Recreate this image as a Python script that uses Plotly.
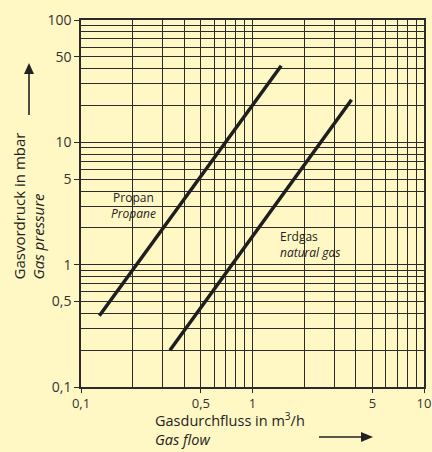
import plotly.graph_objects as go

# ---- data ----
propane_flow = [0.128, 1.47]
propane_pressure = [0.382, 42.3]
natgas_flow = [0.330, 3.78]
natgas_pressure = [0.200, 22.3]

x_tickvals = [0.1, 0.5, 1, 5, 10]
x_ticktext = ["0,1", "0,5", "1", "5", "10"]
y_tickvals = [0.1, 0.5, 1, 5, 10, 50, 100]
y_ticktext = ["0,1", "0,5", "1", "5", "10", "50", "100"]
x_minor = [m * d for d in (0.1, 1) for m in range(1, 10)] + [10]
y_minor = [m * d for d in (0.1, 1, 10) for m in range(1, 10)] + [100]

BG = "#fff8c5"
INK = "#2b2b2b"
FONT = "Open Sans"

# plot area in pixels
L, R, T, B = 81, 424, 20, 387
W, H = 432, 452


def px(x):
    return (x - L) / (R - L)


def py(y):
    return (B - y) / (B - T)


fig = go.Figure()
fig.add_trace(go.Scatter(x=propane_flow, y=propane_pressure, mode="lines",
                         line=dict(color="#1e1e1e", width=3.5), showlegend=False))
fig.add_trace(go.Scatter(x=natgas_flow, y=natgas_pressure, mode="lines",
                         line=dict(color="#1e1e1e", width=3.5), showlegend=False))

axis_common = dict(
    type="log", showline=True, linecolor=INK, linewidth=1.5, mirror=True,
    ticks="outside", ticklen=5, tickcolor=INK, tickwidth=1.2,
    showgrid=True, gridcolor=INK, gridwidth=1.2,
    tickfont=dict(family=FONT, size=14, color="#333"),
    zeroline=False, automargin=False, ticklabeloverflow="allow",
)

fig.update_xaxes(**axis_common, range=[-1, 1], tickmode="array",
                 tickvals=x_tickvals, ticktext=x_ticktext,
                 minor=dict(tickmode="array", tickvals=x_minor, showgrid=True,
                            gridcolor=INK, gridwidth=1, ticks=""))
fig.update_xaxes(tickfont=dict(size=13), ticklen=4)
fig.update_yaxes(**axis_common, range=[-1, 2], tickmode="array",
                 tickvals=y_tickvals, ticktext=y_ticktext,
                 minor=dict(tickmode="array", tickvals=y_minor, showgrid=True,
                            gridcolor=INK, gridwidth=1, ticks=""))

# label background boxes (above grid, below lines)
for (x0, y0, x1, y1) in [(107, 191, 162, 225), (275, 229, 346, 257)]:
    fig.add_shape(type="rect", xref="paper", yref="paper",
                  x0=px(x0), x1=px(x1), y0=py(y1), y1=py(y0),
                  fillcolor=BG, line=dict(width=0), layer="between")

ann = []


def text(x, y, s, size=13, xanchor="center", angle=0, yanchor="middle", align="center"):
    ann.append(dict(xref="paper", yref="paper", x=px(x), y=py(y), text=s,
                    showarrow=False, xanchor=xanchor, yanchor=yanchor, textangle=angle,
                    align=align,
                    font=dict(family=FONT, size=size, color="#222")))


text(133, 206, "Propan<br><i>Propane</i>", size=12)
text(278, 244, "Erdgas<br><i>natural gas</i>", size=12, xanchor="left", align="left")

text(153, 451, "Gasdurchfluss in m<sup>3</sup>/h<br><i>Gas flow</i>", size=14.5,
     xanchor="left", yanchor="bottom", align="left")
text(28, 282, "Gasvordruck in mbar<br><i>Gas pressure</i>", size=15, angle=-90,
     xanchor="center", yanchor="bottom", align="left")


# arrows drawn as shapes
def arrow_v(x, y_tail, y_head):
    fig.add_shape(type="line", xref="paper", yref="paper",
                  x0=px(x), x1=px(x), y0=py(y_tail), y1=py(y_head + 8),
                  line=dict(color="#222", width=1.6))
    path = "M {a} {b} L {c} {d} L {e} {f} Z".format(
        a=px(x - 5), b=py(y_head + 11), c=px(x + 5), d=py(y_head + 11),
        e=px(x), f=py(y_head))
    fig.add_shape(type="path", xref="paper", yref="paper", path=path,
                  fillcolor="#222", line=dict(width=0))


def arrow_h(y, x_tail, x_head):
    fig.add_shape(type="line", xref="paper", yref="paper",
                  x0=px(x_tail), x1=px(x_head - 8), y0=py(y), y1=py(y),
                  line=dict(color="#222", width=1.6))
    path = "M {a} {b} L {c} {d} L {e} {f} Z".format(
        a=px(x_head - 12), b=py(y - 5), c=px(x_head - 12), d=py(y + 5),
        e=px(x_head), f=py(y))
    fig.add_shape(type="path", xref="paper", yref="paper", path=path,
                  fillcolor="#222", line=dict(width=0))


arrow_v(29, 115, 63)
arrow_h(437, 319, 373)

fig.update_layout(
    width=W, height=H, paper_bgcolor=BG, plot_bgcolor=BG,
    margin=dict(l=L, r=W - R, t=T, b=H - B),
    annotations=ann, showlegend=False,
)

fig.write_html("out.html")
